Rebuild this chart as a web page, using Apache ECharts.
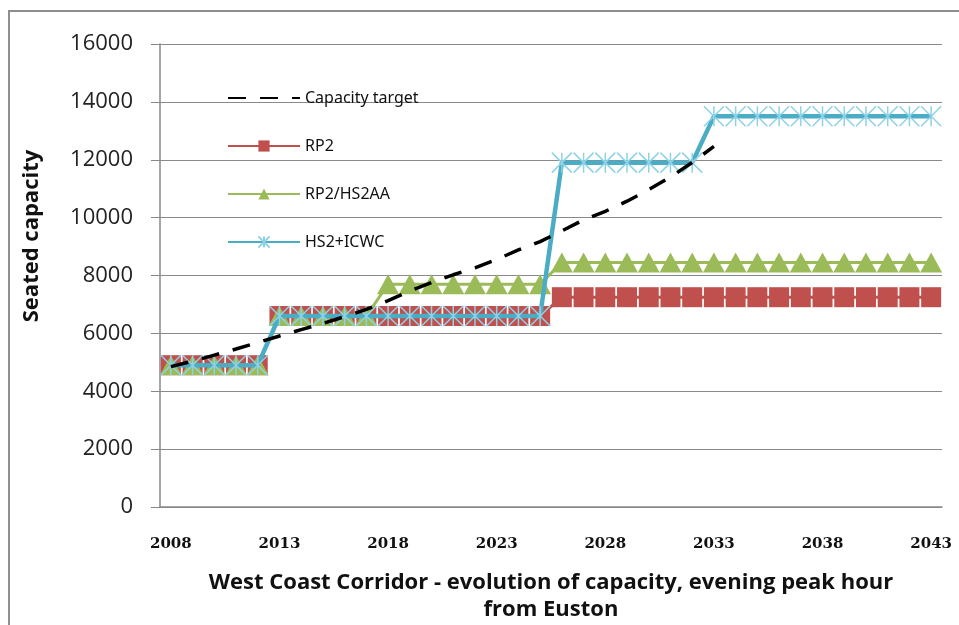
<!DOCTYPE html>
<html>
<head>
<meta charset="utf-8">
<script src="https://cdn.jsdelivr.net/npm/echarts@6/dist/echarts.min.js"></script>
<style>
html,body{margin:0;padding:0;background:#fff;}
#chart{width:959px;height:625px;}
</style>
</head>
<body>
<div id="chart"></div>
<script>
var years = ['2008','2009','2010','2011','2012','2013','2014','2015','2016','2017','2018','2019','2020','2021','2022','2023','2024','2025','2026','2027','2028','2029','2030','2031','2032','2033','2034','2035','2036','2037','2038','2039','2040','2041','2042','2043'];
var capacityTarget = [4850,5040,5250,5460,5680,5910,6130,6340,6580,6830,7130,7460,7760,8025,8265,8556,8883,9172,9540,9925,10217,10568,10967,11402,11905,12460];
var rp2 = [4900,4900,4900,4900,4900,6600,6600,6600,6600,6600,6600,6600,6600,6600,6600,6600,6600,6600,7250,7250,7250,7250,7250,7250,7250,7250,7250,7250,7250,7250,7250,7250,7250,7250,7250,7250];
var rp2hs2aa = [4900,4900,4900,4900,4900,6600,6600,6600,6600,6600,7700,7700,7700,7700,7700,7700,7700,7700,8450,8450,8450,8450,8450,8450,8450,8450,8450,8450,8450,8450,8450,8450,8450,8450,8450,8450];
var hs2icwc = [4900,4900,4900,4900,4900,6600,6600,6600,6600,6600,6600,6600,6600,6600,6600,6600,6600,6600,11900,11900,11900,11900,11900,11900,11900,13500,13500,13500,13500,13500,13500,13500,13500,13500,13500,13500];
var yTicks = {min:0, max:16000, interval:2000};

var chart = echarts.init(document.getElementById('chart'), null, {renderer:'canvas'});
var star = 'path://M0,0L20,20M20,0L0,20M10,0L10,20';
chart.setOption({
  animation:false,
  backgroundColor:'#fff',
  grid:{left:160, right:17, top:44, bottom:118, containLabel:false, outerBoundsMode:'none'},
  legend:{
    orient:'vertical', left:222, top:85, itemWidth:72, itemHeight:14, itemGap:32,
    textStyle:{fontFamily:'Noto Sans', fontSize:16, color:'#111'},
    data:[{name:'Capacity target', itemStyle:{opacity:0}},'RP2','RP2/HS2AA','HS2+ICWC']
  },
  xAxis:{
    type:'category', data:years, boundaryGap:true,
    axisLine:{lineStyle:{color:'#888', width:1.5}},
    axisTick:{interval:0, length:6, lineStyle:{color:'#888'}},
    axisLabel:{interval:4, margin:30, fontFamily:'DejaVu Serif', fontWeight:'bold', fontSize:15, color:'#111'},
    splitLine:{show:false},
    name:'West Coast Corridor - evolution of capacity, evening peak hour\nfrom Euston',
    nameLocation:'middle', nameGap:62,
    nameTextStyle:{fontFamily:'Open Sans', fontWeight:'bold', fontSize:22, color:'#111', lineHeight:27}
  },
  yAxis:{
    type:'value', min:yTicks.min, max:yTicks.max, interval:yTicks.interval,
    axisLine:{show:true, lineStyle:{color:'#888', width:1.5}},
    axisTick:{show:true, length:9, lineStyle:{color:'#888'}},
    axisLabel:{margin:27, fontFamily:'Open Sans', fontSize:22, color:'#222', formatter:function(v){return String(v);}},
    splitLine:{lineStyle:{color:'#8a8a8a', width:1.2}}
  },
  graphic:[
    {type:'rect', shape:{x:9, y:11, width:1200, height:1000}, style:{fill:'none', stroke:'#8f8f8f', lineWidth:2}, z:-1},
    {type:'text', x:32, y:236, rotation:Math.PI/2,
     style:{text:'Seated capacity', fontFamily:'Open Sans', fontWeight:'bold', fontSize:22, fill:'#111', align:'center', verticalAlign:'middle'}}
  ],
  series:[
    {name:'RP2', type:'line', data:rp2, symbol:'rect', symbolSize:[20,20], showAllSymbol:true,
     lineStyle:{color:'#C0504D', width:3}, itemStyle:{color:'#C0504D'}, z:2},
    {name:'RP2/HS2AA', type:'line', data:rp2hs2aa, symbol:'triangle', symbolSize:[22,20], showAllSymbol:true,
     lineStyle:{color:'#9BBB59', width:3}, itemStyle:{color:'#9BBB59'}, z:3},
    {name:'HS2+ICWC', type:'line', data:hs2icwc, symbol:star, symbolSize:[20,20], showAllSymbol:true,
     lineStyle:{color:'#4BACC6', width:4.5}, itemStyle:{color:'rgba(0,0,0,0)', borderColor:'#8fd2e6', borderWidth:1.5}, z:4},
    {name:'Capacity target', type:'line', data:capacityTarget, symbol:'none',
     lineStyle:{color:'#000', width:3.5, type:[18,14]}, itemStyle:{color:'#000'}, z:5}
  ]
});
</script>
</body>
</html>
